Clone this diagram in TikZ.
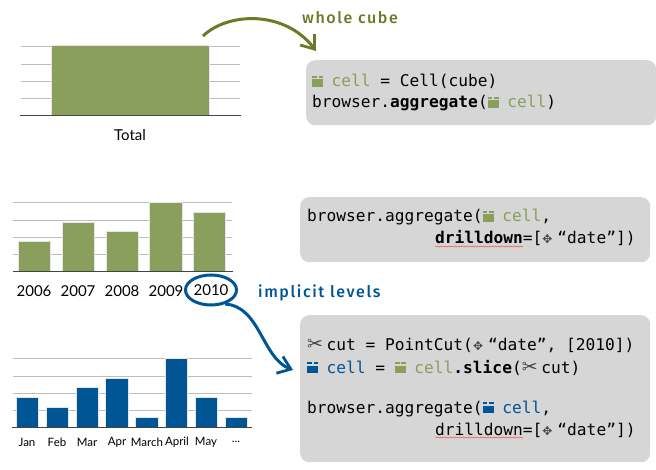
\documentclass[tikz,border=0pt]{standalone}
\usepackage{fontspec}
\setmainfont{Lato}
\setmonofont{DejaVu Sans Mono}
\newfontfamily\symfont{DejaVu Sans}
\newfontfamily\handfont[LetterSpace=10]{Fira Sans Medium}
\usetikzlibrary{arrows.meta,shapes.geometric,decorations.pathmorphing}
\definecolor{cubegreen}{HTML}{8A9F5C}
\definecolor{cellblue}{HTML}{005595}
\definecolor{noteolive}{HTML}{6B7A27}
\definecolor{codegray}{HTML}{D6D6D6}
\definecolor{gridgray}{HTML}{BDBDBD}
\definecolor{axisgray}{HTML}{444444}
\definecolor{symgray}{HTML}{444444}
\newcommand{\cellicon}[1]{{\color{#1}\makebox[19.5pt][l]{\rlap{\rule{11pt}{7.5pt}}\rlap{\rule[8.6pt]{4.6pt}{2.8pt}}\hspace{6.4pt}\rule[8.6pt]{4.6pt}{2.8pt}}}}
\newcommand{\cutmark}{{\symfont\color{symgray}\makebox[19.5pt][l]{\fontsize{19}{19}\selectfont ✂}}}
\newcommand{\dimmark}{{\symfont\color{symgray}\makebox[15pt][l]{\fontsize{12}{12}\selectfont ✥}}}
\tikzset{
  codebox/.style={fill=codegray, rounded corners=9pt, minimum height=#1, minimum width=350pt, inner sep=0pt, anchor=north west},
  codeline/.style={anchor=base west, inner sep=0pt, font=\ttfamily\fontsize{16.2}{20}\selectfont},
  grid line/.style={gridgray, line width=0.8pt},
  axis line/.style={axisgray, line width=0.9pt},
  green bar/.style={fill=cubegreen, preaction={draw=black!10, line width=1.6pt}},
  blue bar/.style={fill=cellblue, preaction={draw=black!10, line width=1.6pt}},
  squiggle/.style={red!60!codegray, line width=0.5pt, decorate, decoration={snake, amplitude=0.5pt, segment length=2.5pt}},
  note/.style={font=\handfont\fontsize{16}{18}\selectfont, inner sep=0pt},
  note arrow/.style={line width=3pt, -{Straight Barb[length=12pt, width=18pt, line width=2.8pt]}}
}
\begin{document}
\begin{tikzpicture}[x=1pt, y=-1pt]
  \useasboundingbox (0,0) rectangle (656,470);

  % total chart
  \foreach \y in {46,64,81,98}
    \draw [grid line] (21,\y) -- (240,\y);
  \path [green bar] (52,46) rectangle (209,115);
  \draw [axis line] (20,115) -- (241,115);
  \node [font=\fontsize{15}{18}\selectfont] (total) at (130,135) {Total};

  % years chart
  \foreach \y in {202,220,237,254}
    \draw [grid line] (13,\y) -- (232,\y);
  \foreach \xa/\xb/\ytop in {19/50/242, 63/94/223, 107/138/232, 150/182/203, 194/225/213}
    \path [green bar] (\xa,\ytop) rectangle (\xb,271);
  \draw [axis line] (13,271) -- (233,271);
  \foreach \x/\yearname in {34/2006, 78/2007, 122/2008, 166/2009}
    \node [font=\fontsize{15}{18}\selectfont] (Y\yearname) at (\x,291) {\yearname};
  \node [draw=cellblue, line width=3pt, ellipse, inner sep=0pt, minimum width=51pt, minimum height=30pt,
         font=\fontsize{15}{18}\selectfont] (Y2010) at (211,290) {2010};

  % months chart
  \foreach \y in {358,376,393,410}
    \draw [grid line] (13,\y) -- (252,\y);
  \foreach \xa/\xb/\ytop in {17/38/398, 47/68/408, 77/98/388, 106/128/379, 136/158/418, 166/187/359, 196/217/398, 226/247/418}
    \path [blue bar] (\xa,\ytop) rectangle (\xb,427);
  \draw [axis line] (12,427) -- (252,427);
  \foreach \x/\monthname in {27/Jan, 57/Feb, 87/Mar, 117/Apr, 147/March, 177/April, 206/May}
    \node [font=\fontsize{11.5}{14}\selectfont] (\monthname) at (\x,442) {\monthname};
  \node [font=\fontsize{11.5}{14}\selectfont] (rest) at (236,442) {...};

  % code boxes
  \node [codebox=65pt] (whole) at (306,60) {};
  \node [codeline] (whole1) at (312,87) {\cellicon{cubegreen}\textcolor{cubegreen}{cell} = Cell(cube)};
  \node [codeline] (whole2) at (312,108) {browser.\textbf{aggregate}(\cellicon{cubegreen}\textcolor{cubegreen}{cell})};

  \node [codebox=65pt] (drill) at (300,197) {};
  \node [codeline] (drill1) at (307,222) {browser.aggregate(\cellicon{cubegreen}\textcolor{cubegreen}{cell},};
  \node [codeline] (drill2) at (435,244) {\textbf{drilldown}=[\dimmark“date”])};

  \node [codebox=147pt] (slice) at (300,315) {};
  \node [codeline] (slice1) at (307,351) {\cutmark cut = PointCut(\dimmark“date”, [2010])};
  \node [codeline] (slice2) at (307,373) {\cellicon{cellblue}\textcolor{cellblue}{cell} = \cellicon{cubegreen}\textcolor{cubegreen}{cell}\textbf{.slice}(\cutmark cut)};
  \node [codeline] (slice3) at (307,413) {browser.aggregate(\cellicon{cellblue}\textcolor{cellblue}{cell},};
  \node [codeline] (slice4) at (435,435) {drilldown=[\dimmark“date”])};

  % spelling marks
  \draw [squiggle] (drill2.base west) ++(0,2.5) -- ++(88,0);
  \draw [squiggle] (slice4.base west) ++(0,2.5) -- ++(88,0);

  % notes
  \node [note, text=noteolive, anchor=base west] (wholenote) at (302,24) {whole cube};
  \node [note, text=cellblue, anchor=base west] (implicitnote) at (258,298) {implicit levels};

  \coordinate (wholefrom) at (203,36);
  \coordinate (wholeto) at (316,51);
  \coordinate (cellto) at (293,370);
  \draw [noteolive, note arrow] (wholefrom) .. controls (228,12) and (285,10) .. (wholeto);
  \draw [cellblue, note arrow] (Y2010.-45) .. controls (260,306) and (262,358) .. (cellto);
\end{tikzpicture}
\end{document}
